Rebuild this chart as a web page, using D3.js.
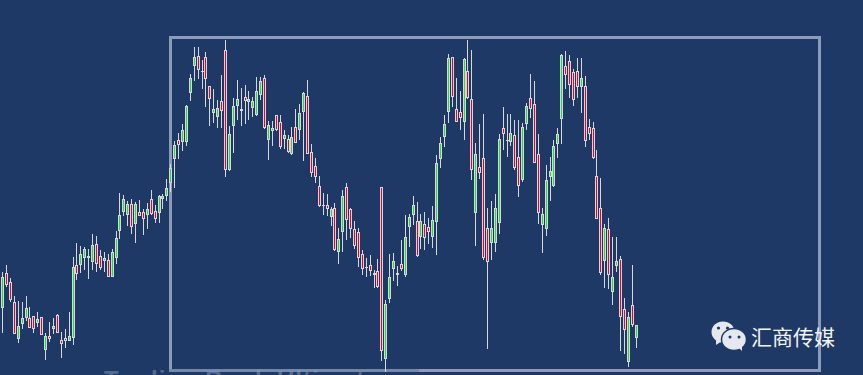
<!DOCTYPE html>
<html lang="en"><head>
<meta charset="utf-8">
<title>Candles</title>
<script src="https://d3js.org/d3.v7.min.js"></script>
<style>
html, body { margin: 0; padding: 0; background: #1e3965; overflow: hidden; }
svg { display: block; }
</style>
</head>
<body>
<script>
const highs = [
  103,110,97,79,74,73,79,68,59,63,
  58,42,53,57,61,43,46,63,118,132,
  129,128,126,141,139,125,123,121,126,144,
  182,180,174,176,173,175,166,172,185,170,
  180,181,196,211,234,242,251,270,301,328,
  328,315,323,289,286,275,300,335,249,277,
  295,287,290,284,278,298,298,300,254,254,
  260,260,245,240,248,266,271,283,295,231,
  217,199,182,181,168,172,147,185,192,167,
  154,147,125,117,120,105,116,188,75,121,
  122,109,135,160,161,179,173,161,163,157,
  169,220,238,260,321,318,297,284,317,335,
  325,232,251,261,167,174,181,241,268,261,
  261,255,255,252,272,301,294,241,167,210,
  218,235,247,321,324,320,306,317,317,299,
  256,253,225,197,151,157,138,138,119,77,
  63,110,50];
const lows = [
  42,88,73,41,32,46,54,47,42,48,
  40,15,33,41,42,17,27,34,30,95,
  102,105,96,105,103,105,103,98,98,111,
  136,159,149,141,132,159,140,146,160,152,
  152,166,174,183,187,216,224,229,274,294,
  296,286,268,249,252,247,247,198,204,222,
  255,249,251,255,258,259,275,246,215,229,
  244,226,226,222,220,232,235,214,221,198,
  192,168,160,159,149,124,111,123,135,137,
  126,108,100,98,99,87,87,14,3,72,
  94,89,104,98,128,150,118,126,125,131,
  127,120,207,228,252,268,253,245,235,276,
  195,129,196,115,26,115,123,141,225,218,
  229,205,178,193,245,257,212,151,122,139,
  174,188,217,231,286,277,269,277,262,228,
  235,216,156,100,87,86,70,103,24,21,
  8,48,27];
const opens = [
  67,102,93,73,36,51,57,57,59,52,
  58,25,39,46,60,35,37,34,37,110,
  110,117,117,113,131,119,114,115,98,117,
  144,163,160,171,151,163,163,160,176,164,
  162,176,179,192,216,235,233,233,282,309,
  319,303,318,289,262,258,274,325,205,249,
  269,264,278,273,267,260,280,297,235,244,
  260,253,236,236,221,248,245,263,279,223,
  209,189,169,170,158,167,123,143,188,166,
  146,143,121,107,110,102,104,188,16,76,
  106,102,111,100,148,160,154,138,151,148,
  138,153,216,238,263,318,266,263,253,304,
  276,162,208,217,147,132,132,152,247,234,
  233,240,218,195,251,277,271,221,150,146,
  198,189,231,256,309,314,303,304,288,289,
  248,247,199,167,114,146,83,109,116,66,
  13,70,37];
const closes = [
  98,90,75,41,49,57,67,47,46,56,
  40,39,36,49,42,31,34,39,108,101,
  121,126,119,130,111,107,117,98,123,137,
  160,176,171,148,171,159,156,166,161,156,
  179,179,187,207,230,230,245,269,297,318,
  305,304,296,276,266,267,264,205,241,269,
  276,266,274,276,274,284,294,247,250,247,
  245,228,240,223,238,232,262,282,221,202,
  198,169,170,166,166,125,136,179,155,146,
  129,117,106,108,104,100,88,24,71,98,
  114,100,106,138,158,170,119,154,137,143,
  155,212,232,251,317,278,253,257,316,277,
  205,221,202,117,113,147,167,236,241,235,
  242,207,189,248,269,266,212,162,161,195,
  204,229,241,320,300,290,275,288,297,234,
  241,217,156,102,147,100,98,114,58,45,
  58,50,50];

const width = 863;
const height = 375;
const bg = "#1e3965";
const wickColor = "#d8d8d8";
const upColor = "#22dd3c";
const downColor = "#ea0030";
const frameColor = "#8a9cb8";

const svg = d3.select("body").append("svg")
  .attr("width", width)
  .attr("height", height);

const xScale = d3.scaleLinear().domain([0, highs.length - 1]).range([2.625, 636.05]);
const yScale = d3.scaleLinear().domain([0, height]).range([height, 0]);
const px = (i) => Math.floor(xScale(i));

// selection frame, sits under the candles
svg.append("rect")
  .attr("x", 170.5)
  .attr("y", 37.5)
  .attr("width", 649)
  .attr("height", 333)
  .attr("fill", "none")
  .attr("stroke", frameColor)
  .attr("stroke-width", 3);

// bottom edge is duller on the left where the caption fades over it
svg.append("rect")
  .attr("x", 169)
  .attr("y", 369)
  .attr("width", 250)
  .attr("height", 3)
  .attr("fill", "#7388aa");

// faded caption cut off by the bottom edge
svg.append("text")
  .attr("x", 104)
  .attr("y", 387.5)
  .attr("font-family", "'Liberation Sans', sans-serif")
  .attr("font-size", 24)
  .attr("font-weight", 700)
  .attr("letter-spacing", 1)
  .attr("fill", "#8a9cb8")
  .attr("fill-opacity", 0.5)
  .text("Trading Book Ultimate");

const candles = svg.append("g").selectAll("g")
  .data(highs.map((h, i) => i))
  .enter()
  .append("g")
  .attr("shape-rendering", "crispEdges");

candles.append("rect")
  .attr("x", (i) => px(i))
  .attr("y", (i) => yScale(highs[i]))
  .attr("width", 1)
  .attr("height", (i) => yScale(lows[i]) - yScale(highs[i]))
  .attr("fill", wickColor);

candles.append("rect")
  .attr("x", (i) => px(i) - 1)
  .attr("y", (i) => yScale(Math.max(opens[i], closes[i])))
  .attr("width", 3)
  .attr("height", (i) => Math.abs(opens[i] - closes[i]))
  .attr("fill", wickColor);

candles.append("rect")
  .attr("x", (i) => px(i))
  .attr("y", (i) => yScale(Math.max(opens[i], closes[i])) + 1)
  .attr("width", 1)
  .attr("height", (i) => Math.max(0, Math.abs(opens[i] - closes[i]) - 2))
  .attr("fill", (i) => closes[i] >= opens[i] ? upColor : downColor);

// wechat mark
const icon = svg.append("g").attr("fill", "#e6e8f0");
icon.append("ellipse").attr("cx", 723).attr("cy", 332).attr("rx", 11.5).attr("ry", 10.5);
icon.append("path").attr("d", "M716 339 L716 345 L722 341 Z");
icon.append("ellipse").attr("cx", 734).attr("cy", 339.5).attr("rx", 12.5).attr("ry", 11)
  .attr("stroke", bg).attr("stroke-width", 1.5);
icon.append("path").attr("d", "M738 347 L742 351 L742 345 Z");
icon.selectAll("circle")
  .data([[718.5, 328, 1.6], [727.5, 328, 1.6], [730, 337, 1.5], [739, 337, 1.5]])
  .enter()
  .append("circle")
  .attr("cx", (d) => d[0])
  .attr("cy", (d) => d[1])
  .attr("r", (d) => d[2])
  .attr("fill", bg);

svg.append("text")
  .attr("x", 751)
  .attr("y", 345)
  .attr("font-family", "'Noto Sans CJK SC', sans-serif")
  .attr("font-size", 21)
  .attr("fill", "#f2f3f6")
  .text("汇商传媒");
</script>
</body></html>
